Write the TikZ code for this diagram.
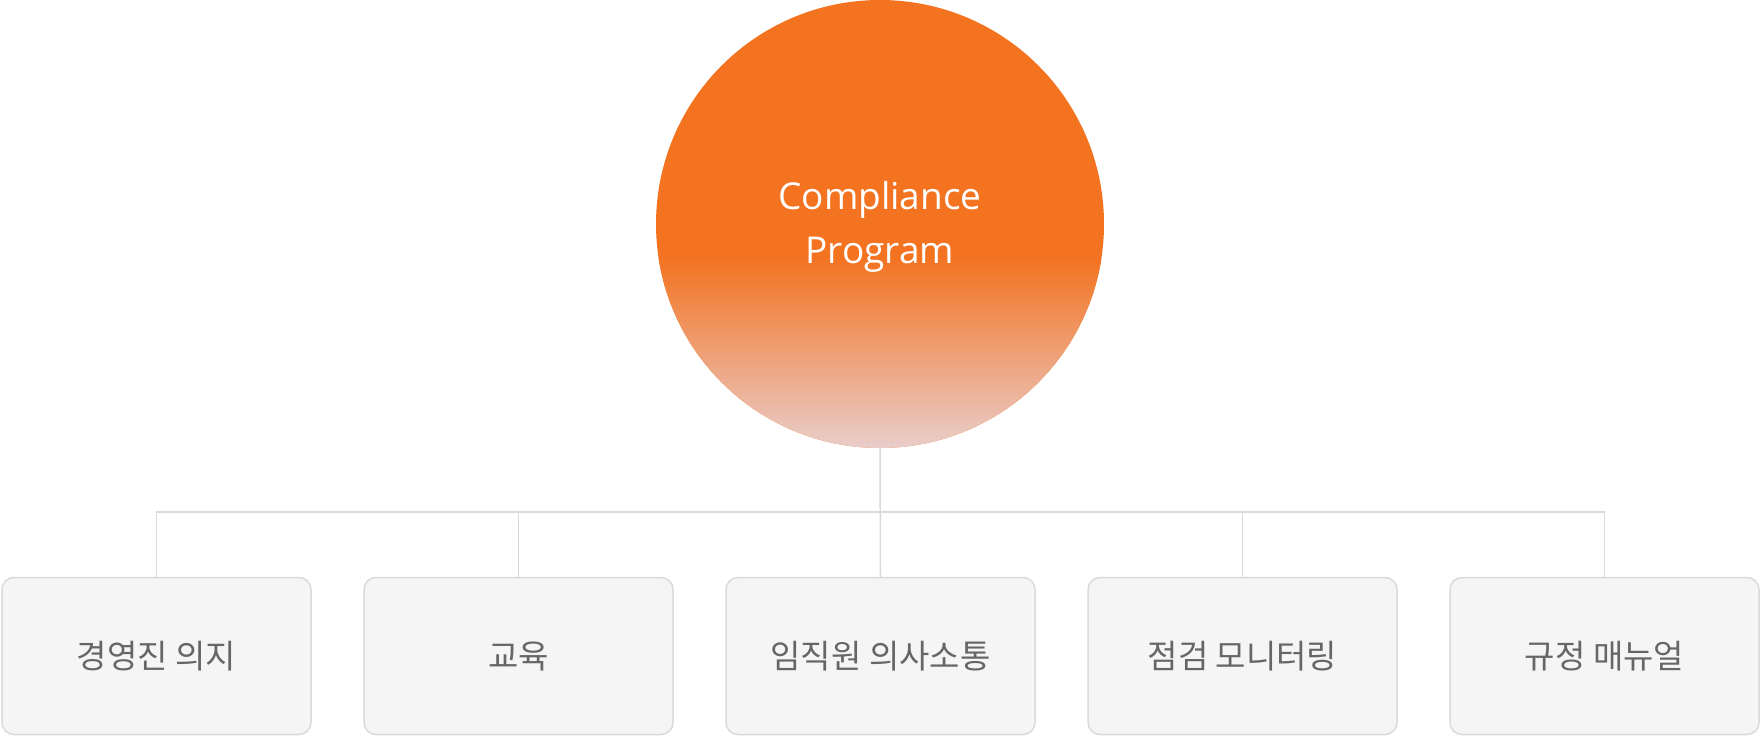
\documentclass[tikz,border=0pt]{standalone}
\usepackage{fontspec}
\newfontfamily\krfont{Noto Sans CJK KR}
\newfontfamily\enfont{Open Sans}
\usepackage{tikz}
\usetikzlibrary{positioning,shapes,calc}
\definecolor{cpOrange}{HTML}{F37321}
\definecolor{cpPale}{HTML}{E9CECC}
\definecolor{lineGray}{HTML}{DADADA}
\definecolor{boxFill}{HTML}{F5F5F5}
\definecolor{txtGray}{HTML}{666666}
\tikzset{
  link/.style = {draw=lineGray, line width=1.5pt},
  item/.style = {draw=lineGray, line width=1.5pt, fill=boxFill,
                 rounded corners=12pt, minimum width=309pt, minimum height=157pt,
                 inner sep=0pt, text=txtGray,
                 font=\krfont\fontsize{33}{38}\selectfont},
}
\begin{document}
\begin{tikzpicture}[x=1pt,y=-1pt]
  \useasboundingbox (0,0) rectangle (1760,736);
  \node[circle, fill=cpOrange, minimum size=448pt, inner sep=0pt] (cp) at (880,224) {};
  % fade in the lower part of the circle
  \begin{scope}
    \clip (cp.center) circle (224pt);
    \shade[top color=cpOrange, bottom color=cpPale] (650,258) rectangle (1110,450);
  \end{scope}
  \node[text=white, align=center, font=\enfont\fontsize{37}{54}\selectfont] (cptext) at ($(cp.center)+(0,3)$) {Compliance\\Program};
  \coordinate (bus) at (880,512);
  \foreach \t [count=\i] in {경영진 의지, 교육, 임직원 의사소통, 점검 모니터링, 규정 매뉴얼}{
    \node[item] (b\i) at ({156.5+362*(\i-1)},656) {\t};
    \draw[link] (b\i.north) |- (bus);
  }
  \draw[link] (cp.south) -- (b3.north);
\end{tikzpicture}
\end{document}
